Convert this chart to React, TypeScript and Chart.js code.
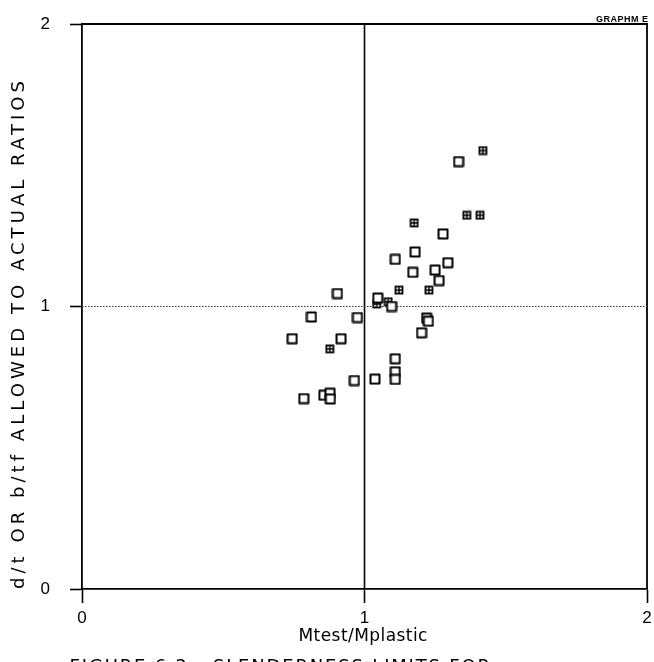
import React, { useEffect, useRef } from "react";
import { Chart, registerables } from "chart.js";

Chart.register(...registerables);

// Open squares (x = Mtest/Mplastic, y = allowed/actual ratio)
const openX = [1.333, 1.278, 1.179, 1.109, 1.295, 1.171, 1.25, 1.264, 0.904, 1.047, 1.096, 0.812, 0.975, 1.22, 1.226, 1.202, 0.744, 0.917, 1.109, 1.109, 1.109, 1.037, 0.964, 0.785, 0.856, 0.878, 0.879];
const openY = [1.513, 1.257, 1.193, 1.167, 1.155, 1.121, 1.129, 1.092, 1.046, 1.03, 1.0, 0.963, 0.961, 0.959, 0.948, 0.907, 0.886, 0.886, 0.815, 0.769, 0.742, 0.743, 0.738, 0.674, 0.686, 0.693, 0.673];
// Cross-hatched squares
const hatchX = [1.419, 1.362, 1.409, 1.176, 1.122, 1.228, 1.043, 1.084, 0.877];
const hatchY = [1.552, 1.323, 1.323, 1.296, 1.058, 1.058, 1.009, 1.017, 0.85];

const xTickValues = [0, 1, 2];
const yTickValues = [0, 1, 2];
const xTitle = "Mtest/Mplastic";
const yTitle = "d/t OR b/tf ALLOWED TO ACTUAL RATIOS";
const captionA = "FIGURE 6.2";
const captionB = "SLENDERNESS LIMITS FOR";
const stamp = "GRAPHM E";

function makeOpen(): HTMLCanvasElement {
  const c = document.createElement("canvas");
  c.width = 12;
  c.height = 12;
  const g = c.getContext("2d")!;
  g.fillStyle = "#fff";
  g.fillRect(1, 1, 10, 10);
  g.strokeStyle = "#000";
  g.lineWidth = 2;
  g.lineJoin = "round";
  g.strokeRect(1.5, 1.5, 9, 9);
  return c;
}

function makeHatch(): HTMLCanvasElement {
  const c = document.createElement("canvas");
  c.width = 10;
  c.height = 10;
  const g = c.getContext("2d")!;
  g.fillStyle = "#fff";
  g.fillRect(1, 1, 8, 8);
  g.strokeStyle = "#000";
  g.lineWidth = 1.8;
  g.strokeRect(1.5, 1.5, 7, 7);
  g.lineWidth = 1.4;
  g.beginPath();
  g.moveTo(5, 1.5);
  g.lineTo(5, 8.5);
  g.moveTo(1.5, 5);
  g.lineTo(8.5, 5);
  g.stroke();
  return c;
}

function fitText(ctx: CanvasRenderingContext2D, text: string, target: number) {
  (ctx as any).letterSpacing = "0px";
  const w0 = ctx.measureText(text).width;
  const sp = Math.max(0, (target - w0) / Math.max(1, text.length - 1));
  (ctx as any).letterSpacing = sp.toFixed(2) + "px";
  return sp;
}

function zeroPad(s: any) {
  s.paddingTop = 0;
  s.paddingBottom = 0;
  s.paddingLeft = 0;
  s.paddingRight = 0;
}

const framePlugin = {
  id: "frame",
  beforeDatasetsDraw(chart: any) {
    const { ctx, chartArea, scales } = chart;
    const { left, right, top, bottom } = chartArea;
    ctx.save();
    ctx.strokeStyle = "#000";
    ctx.lineWidth = 1.8;
    ctx.beginPath();
    ctx.moveTo(left, top);
    ctx.lineTo(right, top);
    ctx.lineTo(right, bottom);
    ctx.stroke();
    const x1 = scales.x.getPixelForValue(1);
    ctx.lineWidth = 1.6;
    ctx.beginPath();
    ctx.moveTo(x1, top);
    ctx.lineTo(x1, bottom);
    ctx.stroke();
    const y1 = scales.y.getPixelForValue(1);
    ctx.strokeStyle = "#333";
    ctx.lineWidth = 1;
    ctx.setLineDash([1.5, 1.5]);
    ctx.beginPath();
    ctx.moveTo(left, y1);
    ctx.lineTo(right, y1);
    ctx.stroke();
    ctx.restore();
  },
  afterDraw(chart: any) {
    const { ctx, chartArea } = chart;
    const { left, right } = chartArea;
    ctx.save();
    ctx.fillStyle = "#000";
    // x title
    ctx.font = '17px "DejaVu Sans", "Liberation Sans", sans-serif';
    fitText(ctx, xTitle, 129);
    ctx.textAlign = "left";
    ctx.textBaseline = "middle";
    ctx.fillText(xTitle, (left + right) / 2 - 66, 637);
    // y title
    ctx.save();
    ctx.translate(19, 589);
    ctx.rotate(-Math.PI / 2);
    ctx.font = '18px "DejaVu Sans", "Liberation Sans", sans-serif';
    fitText(ctx, yTitle, 508);
    ctx.textAlign = "left";
    ctx.textBaseline = "middle";
    ctx.fillText(yTitle, 0, 0);
    ctx.restore();
    // caption (cut by bottom edge)
    ctx.font = '18px "DejaVu Sans", "Liberation Sans", sans-serif';
    ctx.textBaseline = "alphabetic";
    const sp = fitText(ctx, captionB, 277);
    ctx.textAlign = "left";
    ctx.fillText(captionB, 213, 672);
    ctx.textAlign = "right";
    ctx.fillText(captionA, 187 + sp, 672);
    ctx.fillText("-", 206, 672);
    // stamp
    ctx.font = 'bold 9px "Liberation Sans Narrow", "Liberation Sans", Arial, sans-serif';
    fitText(ctx, stamp, 52);
    ctx.textAlign = "left";
    ctx.fillText(stamp, 596, 22);
    ctx.restore();
  },
};

export default function App() {
  const ref = useRef<HTMLCanvasElement>(null);
  useEffect(() => {
    if (!ref.current) return;
    const openImg = makeOpen();
    const hatchImg = makeHatch();
    const chart = new Chart(ref.current, {
      type: "scatter",
      data: {
        datasets: [
          {
            label: "open",
            data: openX.map((x, i) => ({ x, y: openY[i] })),
            pointStyle: openImg as any,
            pointRadius: 6,
          },
          {
            label: "hatched",
            data: hatchX.map((x, i) => ({ x, y: hatchY[i] })),
            pointStyle: hatchImg as any,
            pointRadius: 5,
          },
        ],
      },
      options: {
        animation: false,
        responsive: false,
        layout: { padding: { top: 24, right: 7, left: 0, bottom: 0 } },
        plugins: { legend: { display: false }, tooltip: { enabled: false }, title: { display: false } },
        scales: {
          x: {
            type: "linear",
            min: 0,
            max: 2,
            afterBuildTicks: (s: any) => {
              s.ticks = xTickValues.map((v) => ({ value: v }));
            },
            afterFit: (s: any) => {
              s.height = 73;
              zeroPad(s);
            },
            ticks: {
              color: "#000",
              padding: 5,
              maxRotation: 0,
              font: { family: '"Liberation Sans", Arial, sans-serif', size: 17 },
            },
            grid: { drawOnChartArea: false, drawTicks: true, tickLength: 14, tickColor: "#000", tickWidth: 1.6 },
            border: { display: true, color: "#000", width: 1.8 },
          },
          y: {
            type: "linear",
            min: 0,
            max: 2,
            afterBuildTicks: (s: any) => {
              s.ticks = yTickValues.map((v) => ({ value: v }));
            },
            afterFit: (s: any) => {
              s.width = 82;
              zeroPad(s);
            },
            ticks: {
              color: "#000",
              padding: 20,
              font: { family: '"Liberation Sans", Arial, sans-serif', size: 17 },
            },
            grid: { drawOnChartArea: false, drawTicks: true, tickLength: 12, tickColor: "#000", tickWidth: 1.6 },
            border: { display: true, color: "#000", width: 1.8 },
          },
        },
      },
      plugins: [framePlugin],
    });
    return () => chart.destroy();
  }, []);
  return (
    <div style={{ position: "fixed", left: 0, top: 0, width: 654, height: 662, background: "#fff" }}>
      <canvas ref={ref} width={654} height={662} style={{ display: "block" }} />
    </div>
  );
}
